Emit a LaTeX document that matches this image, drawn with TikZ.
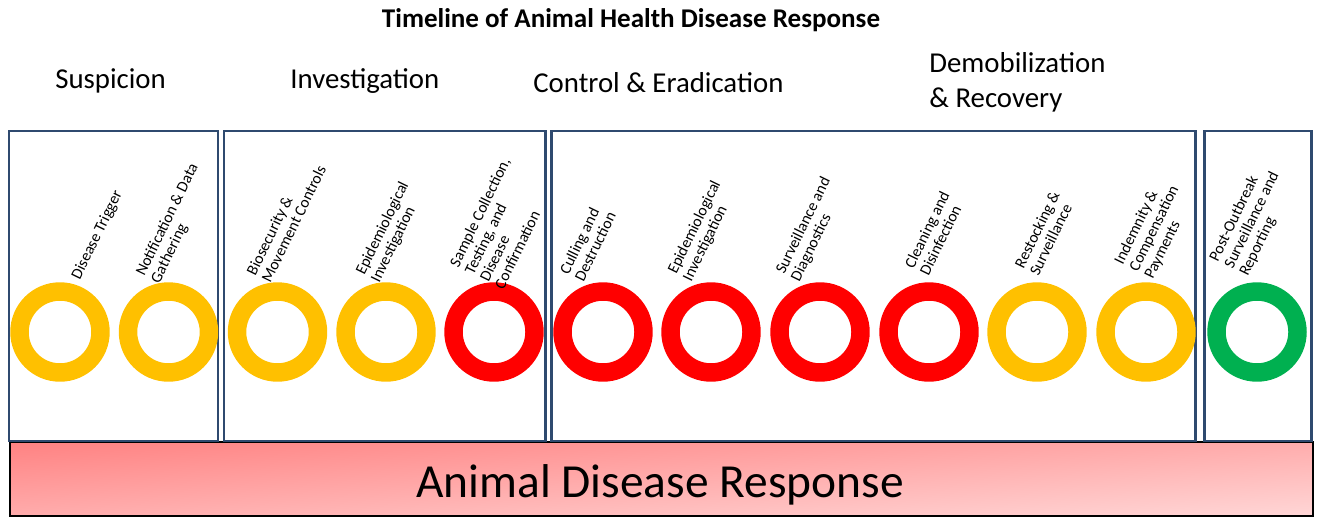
\documentclass[tikz,border=0pt]{standalone}
\usepackage{fontspec}
\setmainfont{Carlito}
\usepackage{tikz}
\definecolor{ryellow}{HTML}{FFC000}
\definecolor{rred}{HTML}{FF0000}
\definecolor{rgreen}{HTML}{00B050}
\definecolor{boxblue}{HTML}{2F4A6F}
% pink fill, dark in the top left corner, pale in the bottom right one
\pgfdeclarefunctionalshading{barshade}{\pgfpoint{0bp}{0bp}}{\pgfpoint{100bp}{100bp}}{}{
  exch 25 sub exch 75 exch sub add 100 div
  dup 0 lt {pop 0} if dup 1 gt {pop 1} if
  0.33 mul 0.51 add 1 exch dup
}
\tikzset{
  stage/.style = {circle, inner sep=0pt, outer sep=0pt,
    minimum size=1.62cm, line width=10.5pt},% plain ring
  stage_y/.style = {stage, draw=ryellow},% ring, amber
  stage_r/.style = {stage, draw=rred},% ring, red
  stage_g/.style = {stage, draw=rgreen},% ring, green
  stage_lbl/.style = {anchor=west, rotate=64, inner sep=0pt, align=left,
    font=\fontsize{9}{9.5}\selectfont},% slanted step text
  phase_hd/.style = {anchor=base west, inner sep=0pt, align=left,
    font=\fontsize{16.4}{20.4}\selectfont},% phase name
  phase_box/.style = {draw=boxblue, line width=1.7pt}% phase frame
}

\begin{document}
\begin{tikzpicture}[x=0.02cm, y=0.02cm]
\useasboundingbox (0,0) rectangle (1317,518);
% bar along the bottom
\draw [black, line width=1.1pt, shading=barshade] (10,2) rectangle (1313,76);
\node [anchor=base, inner sep=0pt, font=\fontsize{27}{30}\selectfont]
  (resp) at (660,21) {Animal Disease Response};
% phase frames
\draw [phase_box] (9,77) rectangle (218,387);
\draw [phase_box] (224,77) rectangle (545,387);
\draw [phase_box] (551,77) rectangle (1195,387);
\draw [phase_box] (1204,77) rectangle (1311,387);
% title and phase names
\node [anchor=base, inner sep=0pt, font=\bfseries\fontsize{15.4}{18}\selectfont]
  (title) at (631,490) {Timeline of Animal Health Disease Response};
\node [phase_hd] (hsus) at (55,429) {Suspicion};
\node [phase_hd] (hinv) at (290,429) {Investigation};
\node [phase_hd] (hctl) at (533,425) {Control \& Eradication};
\node [phase_hd] (hdem) at (929,410) {Demobilization\\\& Recovery};% base = last line
% rings
\node [stage_y] (s1) at (60,186) {};
\node [stage_y] (s2) at (168.5,186) {};
\node [stage_y] (s3) at (277.5,186) {};
\node [stage_y] (s4) at (386,186) {};
\node [stage_r] (s5) at (494,186) {};
\node [stage_r] (s6) at (603,186) {};
\node [stage_r] (s7) at (711,186) {};
\node [stage_r] (s8) at (820,186) {};
\node [stage_r] (s9) at (929,186) {};
\node [stage_y] (s10) at (1037,186) {};
\node [stage_y] (s11) at (1146,186) {};
\node [stage_g] (s12) at (1257,186) {};
% step names
\node [stage_lbl] (l1) at (76,239) {Disease Trigger};
\node [stage_lbl] (l2) at (148,239) {Notification \& Data\\Gathering};
\node [stage_lbl] (l3) at (258,240) {Biosecurity \&\\Movement Controls};
\node [stage_lbl] (l4) at (368,240) {Epidemiological\\Investigation};
\node [stage_lbl] (l5) at (476,241)
  {Sample Collection,\\Testing, and\\Disease\\Confirmation};
\node [stage_lbl] (l6) at (571,241) {Culling and\\Destruction};
\node [stage_lbl] (l7) at (680,241) {Epidemiological\\Investigation};
\node [stage_lbl] (l8) at (788,241) {Surveillance and\\Diagnostics};
\node [stage_lbl] (l9) at (916,247) {Cleaning and\\Disinfection};
\node [stage_lbl] (l10) at (1026,247) {Restocking \&\\Surveillance};
\node [stage_lbl] (l11) at (1134,247) {Indemnity \&\\Compensation\\Payments};
\node [stage_lbl] (l12) at (1229,250)
  {Post-Outbreak\\Surveillance and\\Reporting};
\end{tikzpicture}
\end{document}
